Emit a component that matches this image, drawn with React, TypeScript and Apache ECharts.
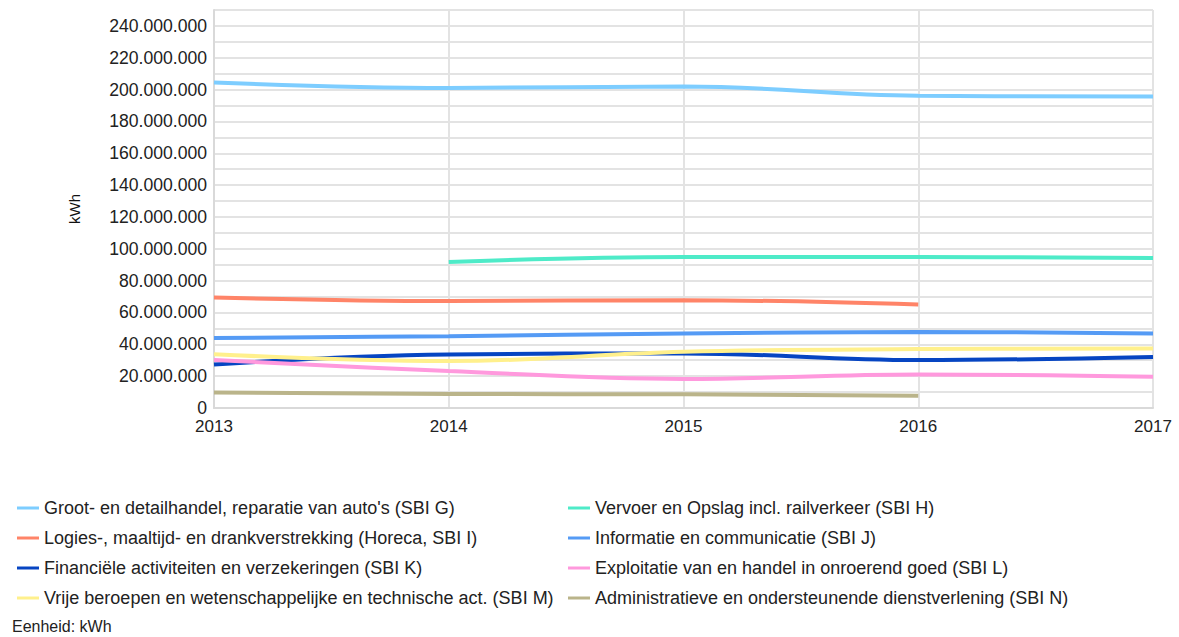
import React, { useEffect, useRef } from "react";
import * as echarts from "echarts";

const years = [2013, 2014, 2015, 2016, 2017];

const seriesNames = [
  "Groot- en detailhandel, reparatie van auto's (SBI G)",
  "Vervoer en Opslag incl. railverkeer (SBI H)",
  "Logies-, maaltijd- en drankverstrekking (Horeca, SBI I)",
  "Informatie en communicatie (SBI J)",
  "Financiële activiteiten en verzekeringen (SBI K)",
  "Exploitatie van en handel in onroerend goed (SBI L)",
  "Vrije beroepen en wetenschappelijke en technische act. (SBI M)",
  "Administratieve en ondersteunende dienstverlening (SBI N)",
];

const colors = [
  "#7dcdff",
  "#4eebc8",
  "#ff8468",
  "#559bf5",
  "#0645c2",
  "#ff99dd",
  "#fff08c",
  "#bab48a",
];

// values per year (null = no data)
const valG = [204500000, 201000000, 202000000, 196100000, 195700000];
const valH = [null, 91700000, 94800000, 94800000, 94200000];
const valI = [69400000, 67200000, 67700000, 65000000, null];
const valJ = [44000000, 45100000, 46800000, 47800000, 46800000];
const valK = [27400000, 33600000, 34300000, 30100000, 32100000];
const valL = [30100000, 23200000, 18200000, 21100000, 19600000];
const valM = [33800000, 29500000, 35300000, 37000000, 37400000];
const valN = [9800000, 8800000, 8600000, 7700000, null];

const allValues = [valG, valH, valI, valJ, valK, valL, valM, valN];

const leftLegend = [seriesNames[0], seriesNames[2], seriesNames[4], seriesNames[6]];
const rightLegend = [seriesNames[1], seriesNames[3], seriesNames[5], seriesNames[7]];

const fmt = (v: number) =>
  String(Math.round(v)).replace(/\B(?=(\d{3})+(?!\d))/g, ".");

export default function App() {
  const ref = useRef<HTMLDivElement>(null);
  useEffect(() => {
    if (!ref.current) return;
    const chart = echarts.init(ref.current, undefined, { renderer: "svg" });
    const font = "Liberation Sans, Arial, sans-serif";
    const legendBase = {
      orient: "vertical",
      top: 494,
      itemWidth: 22,
      itemHeight: 3,
      icon: "rect",
      itemGap: 12,
      textStyle: { fontSize: 18, color: "#222", fontFamily: font, lineHeight: 18 },
    };
    chart.setOption({
      animation: false,
      backgroundColor: "#fff",
      textStyle: { fontFamily: font },
      grid: { left: 214, right: 26, top: 10, bottom: 229 },
      xAxis: {
        type: "value",
        min: 2013,
        max: 2017,
        interval: 1,
        axisLine: { show: true, lineStyle: { color: "#d9d9d9", width: 2 } },
        axisTick: { show: false },
        splitLine: { show: true, lineStyle: { color: "#e3e3e3", width: 2 } },
        axisLabel: { fontSize: 17, color: "#222", margin: 10, formatter: (v: number) => String(v) },
      },
      yAxis: {
        type: "value",
        min: 0,
        max: 250000000,
        interval: 10000000,
        name: "kWh",
        nameLocation: "middle",
        nameGap: 132,
        nameRotate: 90,
        nameTextStyle: { fontSize: 15, color: "#111" },
        axisLine: { show: true, lineStyle: { color: "#d9d9d9", width: 2 } },
        axisTick: { show: false },
        splitLine: { show: true, lineStyle: { color: "#e3e3e3", width: 2 } },
        axisLabel: {
          fontSize: 17.6,
          color: "#222",
          margin: 7,
          formatter: (v: number) => (v % 20000000 === 0 ? fmt(v) : ""),
        },
      },
      legend: [
        { ...legendBase, left: 12, data: leftLegend },
        { ...legendBase, left: 563, data: rightLegend },
      ],
      graphic: [
        {
          type: "text",
          left: 12,
          top: 618,
          style: { text: "Eenheid: kWh", fontSize: 16, fill: "#222", fontFamily: font },
        },
      ],
      series: seriesNames.map((name, i) => ({
        name,
        type: "line",
        smooth: 0.4,
        showSymbol: false,
        symbol: "none",
        color: colors[i],
        lineStyle: { width: 4, color: colors[i] },
        data: years
          .map((y, j) => [y, allValues[i][j]])
          .filter((p) => p[1] !== null),
      })),
    });
    return () => chart.dispose();
  }, []);
  return <div ref={ref} style={{ width: 1179, height: 637, position: "absolute", left: 0, top: 0 }} />;
}
